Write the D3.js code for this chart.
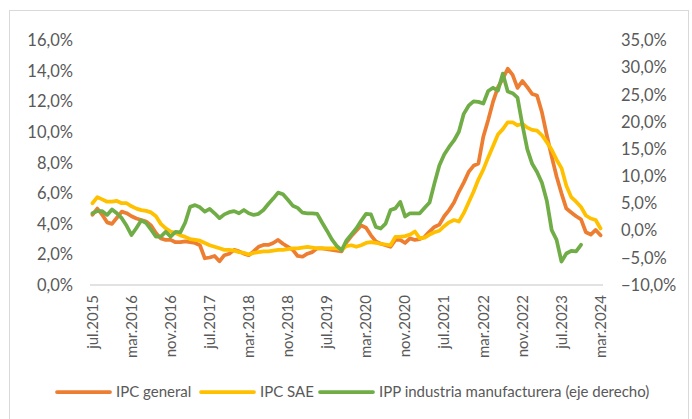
<!DOCTYPE html>
<html>
<head>
  <meta charset="utf-8">
  <script src="https://d3js.org/d3.v7.min.js"></script>
  <style>
    body { margin: 0; background: #fff; }
    text { font-family: Lato, "Noto Sans", sans-serif; fill: #595959; }
  </style>
</head>
<body>
  <div id="chart"></div>
  <script>
    // monthly, jul.2015 .. mar.2024
    const monthNames = ["ene", "feb", "mar", "abr", "may", "jun", "jul", "ago", "sep", "oct", "nov", "dic"];
    const categories = [];
    for (let k = 0; k < 105; k++) {
      const m = (6 + k) % 12, y = 2015 + Math.floor((6 + k) / 12);
      categories.push(monthNames[m] + "." + y);
    }

    const ipcGeneral = [
      4.6, 5.0, 4.6, 4.1, 4.0, 4.4, 4.8, 4.7, 4.5, 4.35, 4.25, 4.15, 3.9, 3.4, 3.05, 2.95, 2.95, 2.8, 2.8, 2.85,
      2.8, 2.75, 2.6, 1.75, 1.8, 1.9, 1.55, 1.95, 2.05, 2.3, 2.2, 2.05, 1.95, 2.2, 2.5, 2.62, 2.62, 2.75, 2.95, 2.7,
      2.5, 2.3, 1.9, 1.85, 2.05, 2.15, 2.4, 2.4, 2.35, 2.3, 2.25, 2.2, 2.8, 3.2, 3.55, 3.9, 3.75, 3.25, 2.85, 2.7,
      2.6, 2.5, 2.95, 2.95, 2.75, 3.05, 2.95, 3.0, 3.15, 3.5, 3.8, 3.95, 4.5, 4.9, 5.4, 6.1, 6.7, 7.4, 7.8, 7.95,
      9.7, 10.8, 12.0, 12.95, 13.5, 14.15, 13.75, 12.9, 13.35, 12.95, 12.5, 12.4, 11.3, 9.8, 8.4, 7.1, 6.0, 5.0, 4.75, 4.5,
      4.3, 3.45, 3.3, 3.6, 3.25
    ];
    const ipcSae = [
      5.35, 5.75, 5.6, 5.45, 5.45, 5.5, 5.35, 5.35, 5.15, 5.0, 4.9, 4.85, 4.75, 4.5, 4.0, 3.7, 3.5, 3.4, 3.25, 3.15,
      3.0, 2.95, 2.9, 2.75, 2.6, 2.5, 2.4, 2.3, 2.3, 2.25, 2.15, 2.1, 2.0, 2.1, 2.15, 2.2, 2.2, 2.25, 2.3, 2.3,
      2.35, 2.4, 2.4, 2.45, 2.5, 2.45, 2.4, 2.4, 2.4, 2.4, 2.4, 2.3, 2.55, 2.6, 2.5, 2.6, 2.75, 2.8, 2.75, 2.7,
      2.65, 2.6, 3.15, 3.15, 3.2, 3.3, 3.5, 3.05, 3.1, 3.3, 3.45, 3.55, 3.85, 4.1, 4.25, 4.15, 4.7, 5.4, 6.1, 6.9,
      7.55, 8.35, 9.1, 9.85, 10.2, 10.65, 10.65, 10.45, 10.55, 10.3, 10.15, 10.1, 9.8, 9.35, 8.85, 8.2, 7.65, 6.5, 5.75, 5.45,
      5.1, 4.55, 4.35, 4.25, 3.7
    ];
    const ippManufactura = [
      3.2, 3.6, 3.6, 2.9, 3.9, 3.2, 2.3, 0.9, -0.8, 0.5, 1.9, 1.4, 0.2, -1.1, -1.1, -0.2, -1.1, -0.2, -0.3, 1.5,
      4.4, 4.7, 4.3, 3.5, 4.0, 3.2, 2.3, 3.0, 3.4, 3.6, 3.2, 3.8, 3.2, 2.9, 3.1, 3.8, 4.9, 5.9, 7.0, 6.7,
      5.7, 4.6, 4.2, 3.3, 3.2, 3.2, 3.1, 1.5, 0.0, -1.6, -2.8, -3.6, -1.8, -0.7, 0.4, 1.8, 3.1, 3.0, 0.7, 0.4,
      1.3, 3.8, 4.1, 5.3, 2.6, 3.2, 3.2, 3.2, 4.2, 5.2, 8.7, 12.0, 14.0, 15.4, 16.6, 18.2, 21.5, 23.0, 23.8, 23.7,
      23.4, 25.7, 26.3, 25.8, 28.9, 25.6, 25.3, 24.5, 19.5, 15.0, 12.3, 10.8, 8.8, 5.5, 0.1, -1.7, -5.7, -4.2, -3.7, -3.8,
      -2.6
    ];

    const leftTicks = [0, 2, 4, 6, 8, 10, 12, 14, 16];
    const rightTicks = [-10, -5, 0, 5, 10, 15, 20, 25, 30, 35];
    const labelEvery = 8;

    const series = [
      { name: "IPC general", values: ipcGeneral, axis: "left", color: "#ED7D31" },
      { name: "IPC SAE", values: ipcSae, axis: "left", color: "#FFC000" },
      { name: "IPP industria manufacturera (eje derecho)", values: ippManufactura, axis: "right", color: "#70AD47" }
    ];

    const W = 692, H = 419;
    const plot = { left: 90, right: 603, top: 40.5, bottom: 285 };

    const svg = d3.select("#chart").append("svg").attr("width", W).attr("height", H);

    // chart border
    svg.append("rect")
      .attr("x", 9.5).attr("y", 10.5)
      .attr("width", 679).attr("height", 420)
      .attr("fill", "none").attr("stroke", "#d9d9d9").attr("stroke-width", 1);

    const x = d3.scaleBand().domain(categories).range([plot.left, plot.right]).padding(0);
    const yLeft = d3.scaleLinear().domain([0, 16]).range([plot.bottom, plot.top]);
    const yRight = d3.scaleLinear().domain([-10, 35]).range([plot.bottom, plot.top]);

    const fmt = v => d3.format(".1f")(v).replace(".", ",") + "%";
    const fs = "15px";
    const fsY = "16.5px";

    // left axis
    const gl = svg.append("g").attr("transform", `translate(${plot.left},0)`)
      .call(d3.axisLeft(yLeft).tickValues(leftTicks).tickFormat(fmt).tickSize(0).tickPadding(17));
    gl.select(".domain").remove();
    gl.selectAll("text").style("font-size", fsY).attr("fill", "#595959");

    // right axis
    const gr = svg.append("g").attr("transform", `translate(${plot.right},0)`)
      .call(d3.axisRight(yRight).tickValues(rightTicks).tickFormat(fmt).tickSize(0).tickPadding(18));
    gr.select(".domain").remove();
    gr.selectAll("text").style("font-size", fsY).attr("fill", "#595959");

    // x axis
    svg.append("line")
      .attr("x1", plot.left).attr("x2", plot.right)
      .attr("y1", plot.bottom).attr("y2", plot.bottom)
      .attr("stroke", "#d9d9d9").attr("stroke-width", 1.5);

    svg.append("g").selectAll("text")
      .data(categories.filter((c, i) => i % labelEvery === 0))
      .join("text")
      .attr("transform", d => `translate(${x(d) + x.bandwidth() / 2},295) rotate(-90)`)
      .attr("text-anchor", "end")
      .attr("dy", "0.35em")
      .style("font-size", fs)
      .text(d => d);

    // lines
    series.forEach(s => {
      const yS = s.axis === "left" ? yLeft : yRight;
      const line = d3.line()
        .x((d, i) => x(categories[i]) + x.bandwidth() / 2)
        .y(d => yS(d));
      svg.append("path")
        .datum(s.values)
        .attr("fill", "none")
        .attr("stroke", s.color)
        .attr("stroke-width", 3.75)
        .attr("stroke-linejoin", "round")
        .attr("stroke-linecap", "round")
        .attr("d", line);
    });

    // legend
    const legendX = [57, 201, 320];
    const lg = svg.append("g");
    series.forEach((s, i) => {
      lg.append("line")
        .attr("x1", legendX[i]).attr("x2", legendX[i] + 53)
        .attr("y1", 392).attr("y2", 392)
        .attr("stroke", s.color).attr("stroke-width", 3.75).attr("stroke-linecap", "round");
      lg.append("text")
        .attr("x", legendX[i] + 59).attr("y", 392)
        .attr("dy", "0.35em")
        .style("font-size", fs)
        .text(s.name);
    });
  </script>
</body>
</html>
